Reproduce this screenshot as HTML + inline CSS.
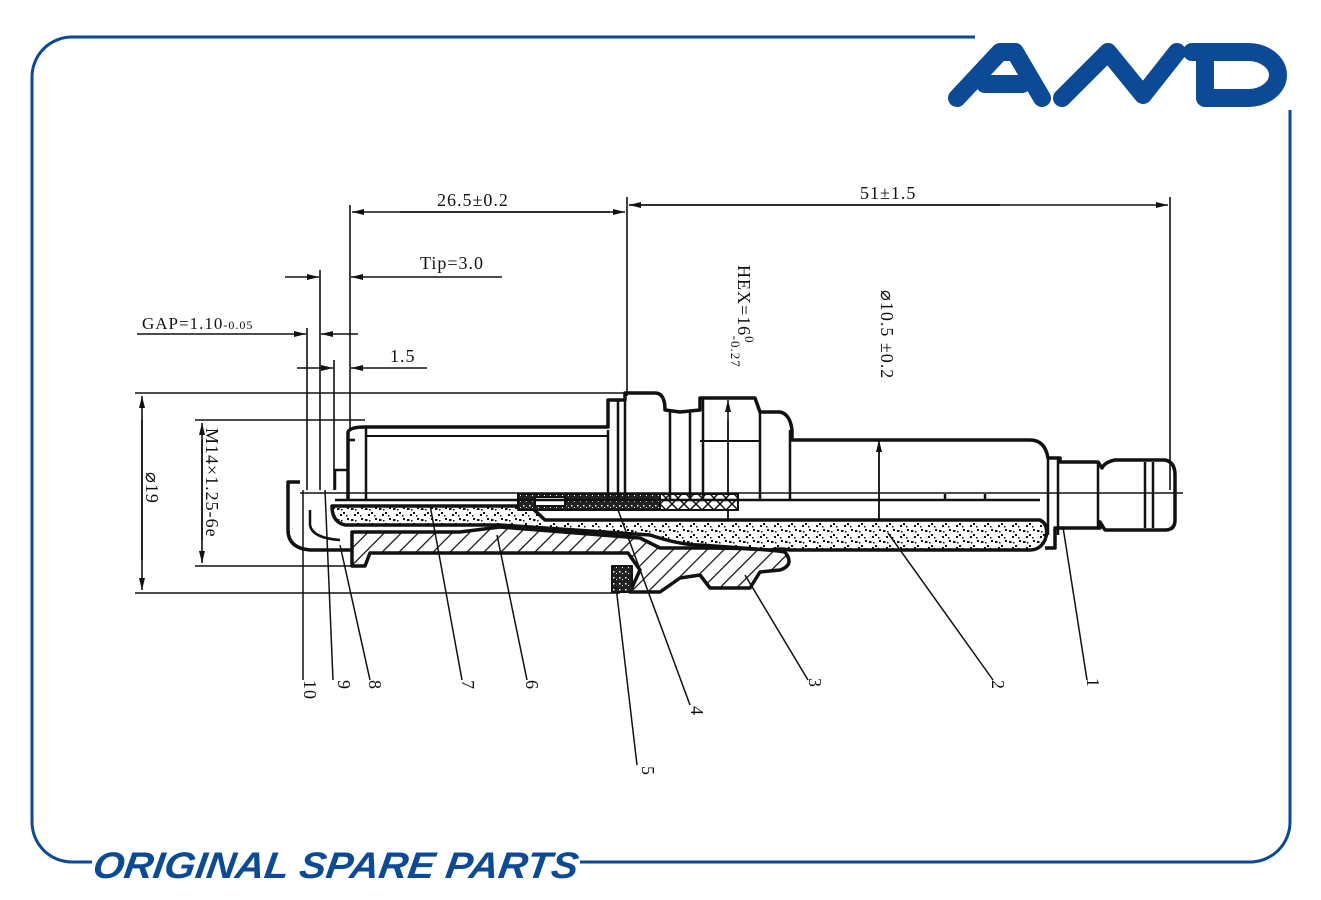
<!DOCTYPE html>
<html><head><meta charset="utf-8"><style>
html,body{margin:0;padding:0;background:#fff;}
svg{display:block;}
.t{font-family:"Liberation Serif","DejaVu Serif",serif;font-size:18px;fill:#111;letter-spacing:1px;}
</style></head><body>
<svg width="1321" height="900" viewBox="0 0 1321 900" xmlns="http://www.w3.org/2000/svg">
<defs>
<pattern id="dots" width="14" height="11" patternUnits="userSpaceOnUse">
<rect width="14" height="11" fill="#fff"/>
<rect x="1" y="2" width="2.5" height="2" fill="#111"/><rect x="7" y="6" width="2" height="2" fill="#111"/>
<rect x="11" y="1" width="2" height="2" fill="#111"/><rect x="4" y="8" width="2" height="2" fill="#111"/>
<rect x="10" y="9" width="1.5" height="1.5" fill="#111"/><rect x="5" y="3" width="1.5" height="1.5" fill="#111"/>
</pattern>
<pattern id="dense" width="6" height="6" patternUnits="userSpaceOnUse">
<rect width="6" height="6" fill="#222"/><rect x="1" y="1" width="1.5" height="1.5" fill="#fff"/><rect x="4" y="3" width="1" height="1" fill="#fff"/>
</pattern>
<pattern id="hatch" width="12" height="12" patternUnits="userSpaceOnUse" patternTransform="rotate(45)">
<rect width="12" height="12" fill="#fff"/><line x1="0" y1="0" x2="0" y2="12" stroke="#111" stroke-width="2.5"/>
</pattern>
<pattern id="xx" width="12" height="12" patternUnits="userSpaceOnUse">
<rect width="12" height="12" fill="#fff"/><path d="M0 0L12 12M12 0L0 12" stroke="#111" stroke-width="1.5"/>
</pattern>
<marker id="ar" viewBox="0 0 12 6" refX="12" refY="3" markerWidth="12" markerHeight="6" orient="auto" markerUnits="userSpaceOnUse"><path d="M0 0L12 3L0 6z" fill="#111"/></marker>
</defs>

<!-- frame -->
<path d="M975 37 H72 A40 40 0 0 0 32 77 V822 A40 40 0 0 0 72 862 H92" fill="none" stroke="#0c4a96" stroke-width="3"/>
<path d="M580 862 H1250 A40 40 0 0 0 1290 822 V110" fill="none" stroke="#0c4a96" stroke-width="3"/>
<!-- logo -->
<g fill="none" stroke="#0c4a96" stroke-width="18" stroke-linecap="round" stroke-linejoin="round">
<path d="M957 98 L1000 52 L1015 52 L1042 98"/>
<path d="M985 84 L1022 84"/>
<path d="M1062 98 L1108 52 L1143 95 L1177 52"/>
<path d="M1205 62 V98 H1248 A30 23 0 0 0 1278 75 A30 23 0 0 0 1248 52 H1192"/>
</g>
<text x="95" y="878" font-family="Liberation Sans,sans-serif" font-weight="bold" font-style="italic" font-size="37" fill="#0c4a96" textLength="485" lengthAdjust="spacingAndGlyphs" transform="skewX(-8) translate(120,0)">ORIGINAL SPARE PARTS</text>

<!-- dimension lines -->
<g stroke="#111" stroke-width="1.6" fill="none">
<line x1="300" y1="493" x2="1183" y2="493"/>
<line x1="135" y1="393" x2="627" y2="393"/>
<line x1="135" y1="593" x2="620" y2="593"/>
<line x1="195" y1="420" x2="365" y2="420"/>
<line x1="195" y1="566" x2="360" y2="566"/>
<line x1="350" y1="205" x2="350" y2="430"/>
<line x1="627" y1="197" x2="627" y2="396"/>
<line x1="1170" y1="197" x2="1170" y2="490"/>
<line x1="320" y1="270" x2="320" y2="490"/>
<line x1="307" y1="328" x2="307" y2="490"/>
<line x1="334" y1="360" x2="334" y2="490"/>
<line x1="610" y1="212" x2="352" y2="212" marker-end="url(#ar)"/>
<line x1="400" y1="212" x2="625" y2="212" marker-end="url(#ar)"/>
<line x1="629" y1="205" x2="1168" y2="205" marker-end="url(#ar)"/>
<line x1="1000" y1="205" x2="629" y2="205" marker-end="url(#ar)"/>
<line x1="285" y1="277" x2="319" y2="277" marker-end="url(#ar)"/>
<line x1="502" y1="277" x2="351" y2="277" marker-end="url(#ar)"/>
<line x1="137" y1="334" x2="306" y2="334" marker-end="url(#ar)"/>
<line x1="358" y1="334" x2="321" y2="334" marker-end="url(#ar)"/>
<line x1="297" y1="368" x2="333" y2="368" marker-end="url(#ar)"/>
<line x1="427" y1="368" x2="351" y2="368" marker-end="url(#ar)"/>
<line x1="142" y1="560" x2="142" y2="396" marker-end="url(#ar)"/>
<line x1="142" y1="420" x2="142" y2="590" marker-end="url(#ar)"/>
<line x1="202" y1="540" x2="202" y2="423" marker-end="url(#ar)"/>
<line x1="202" y1="440" x2="202" y2="563" marker-end="url(#ar)"/>
<line x1="728" y1="580" x2="728" y2="400" marker-end="url(#ar)"/>
<line x1="728" y1="420" x2="728" y2="585" marker-end="url(#ar)"/>
<line x1="879" y1="540" x2="879" y2="440" marker-end="url(#ar)"/>
<line x1="879" y1="450" x2="879" y2="550" marker-end="url(#ar)"/>
</g>

<!-- body parts -->
<g stroke="#111" stroke-width="3.5" stroke-linejoin="round">
<path d="M332 506 H530 L545 520 H1040 Q1050 525 1045 540 Q1040 550 1030 550 H790 Q780 548 770 550 L700 545 Q680 545 650 535 L500 525 L345 525 Q332 522 332 506 Z" fill="url(#dots)"/>
<path d="M352 532 H460 L500 527 L640 538 L660 548 L700 548 Q760 548 785 552 Q795 565 780 570 L760 572 L750 588 H710 L700 575 L680 578 L660 592 H630 L640 570 L628 553 H370 L365 566 H352 Z" fill="url(#hatch)"/>
<rect x="612" y="566" width="20" height="26" fill="url(#dense)" stroke-width="2"/>
<rect x="518" y="494" width="220" height="16" fill="url(#dense)" stroke-width="2"/>
<rect x="660" y="494" width="78" height="16" fill="url(#xx)" stroke-width="2"/>
<rect x="535" y="497" width="30" height="9" fill="#fff" stroke-width="2"/>
<path d="M300 482 H288 V530 Q288 548 310 550 H352" fill="none"/>
<path d="M310 510 V525 Q312 538 340 540" fill="none" stroke-width="2.5"/>
<path d="M348 500 V432 Q350 427 365 427 H608 V400 H625 V393 H655 Q665 393 665 410 L680 412 L700 410 V398 H755 L760 412 H780 Q790 414 792 430 V440 H1030 Q1045 440 1048 458 H1060 V462 H1098 L1102 468 Q1105 462 1115 460 H1165 Q1175 462 1175 475 V520 Q1175 530 1165 530 H1105 L1100 522 V528 H1055 V548 H1045" fill="none"/>
<path d="M366 427 V500 M608 430 V500 M618 400 V500 M625 400 V500 M670 410 V500 M690 412 V500 M703 398 V500 M760 412 V500 M790 430 V500 M1048 458 V535 M1058 458 V535 M1098 462 V528 M1145 462 V528 M1153 462 V528" fill="none" stroke-width="2.5"/>
<path d="M700 441 H760 M366 436 H608" fill="none" stroke-width="2"/>
<path d="M355 440 H348 M348 470 H335 V490" fill="none" stroke-width="2.5"/>
<path d="M335 500 H1040 M945 494 V500 M985 494 V500" fill="none" stroke-width="2.5"/>
</g>

<!-- leader lines -->
<g stroke="#111" stroke-width="1.5">
<line x1="303" y1="490" x2="303" y2="680"/>
<line x1="325" y1="490" x2="333" y2="680"/>
<line x1="340" y1="545" x2="370" y2="680"/>
<line x1="430" y1="505" x2="462" y2="680"/>
<line x1="497" y1="535" x2="527" y2="680"/>
<line x1="618" y1="510" x2="690" y2="705"/>
<line x1="615" y1="578" x2="637" y2="765"/>
<line x1="745" y1="575" x2="808" y2="680"/>
<line x1="888" y1="533" x2="993" y2="680"/>
<line x1="1063" y1="527" x2="1087" y2="680"/>
</g>

<!-- texts -->
<text class="t" x="437" y="206">26.5±0.2</text>
<text class="t" x="860" y="199">51±1.5</text>
<text class="t" x="420" y="269">Tip=3.0</text>
<text class="t" x="142" y="329" style="font-size:17px">GAP=1.10<tspan font-size="12">-0.05</tspan></text>
<text class="t" x="390" y="362">1.5</text>
<text class="t" transform="translate(146,472) rotate(90)">⌀19</text>
<text class="t" transform="translate(206,428) rotate(90)">M14×1.25-6e</text>
<text class="t" transform="translate(738,265) rotate(90)">HEX=16<tspan font-size="13" dy="-7">0</tspan><tspan font-size="13" dy="14" dx="-8">-0.27</tspan></text>
<text class="t" transform="translate(881,290) rotate(90)">⌀10.5 ±0.2</text>
<text class="t" transform="translate(304,680) rotate(90)">10</text>
<text class="t" transform="translate(338,680) rotate(90)">9</text>
<text class="t" transform="translate(369,680) rotate(90)">8</text>
<text class="t" transform="translate(462,680) rotate(90)">7</text>
<text class="t" transform="translate(526,680) rotate(90)">6</text>
<text class="t" transform="translate(691,706) rotate(90)">4</text>
<text class="t" transform="translate(642,766) rotate(90)">5</text>
<text class="t" transform="translate(809,678) rotate(90)">3</text>
<text class="t" transform="translate(992,680) rotate(90)">2</text>
<text class="t" transform="translate(1087,678) rotate(90)">1</text>
</svg>
</body></html>
